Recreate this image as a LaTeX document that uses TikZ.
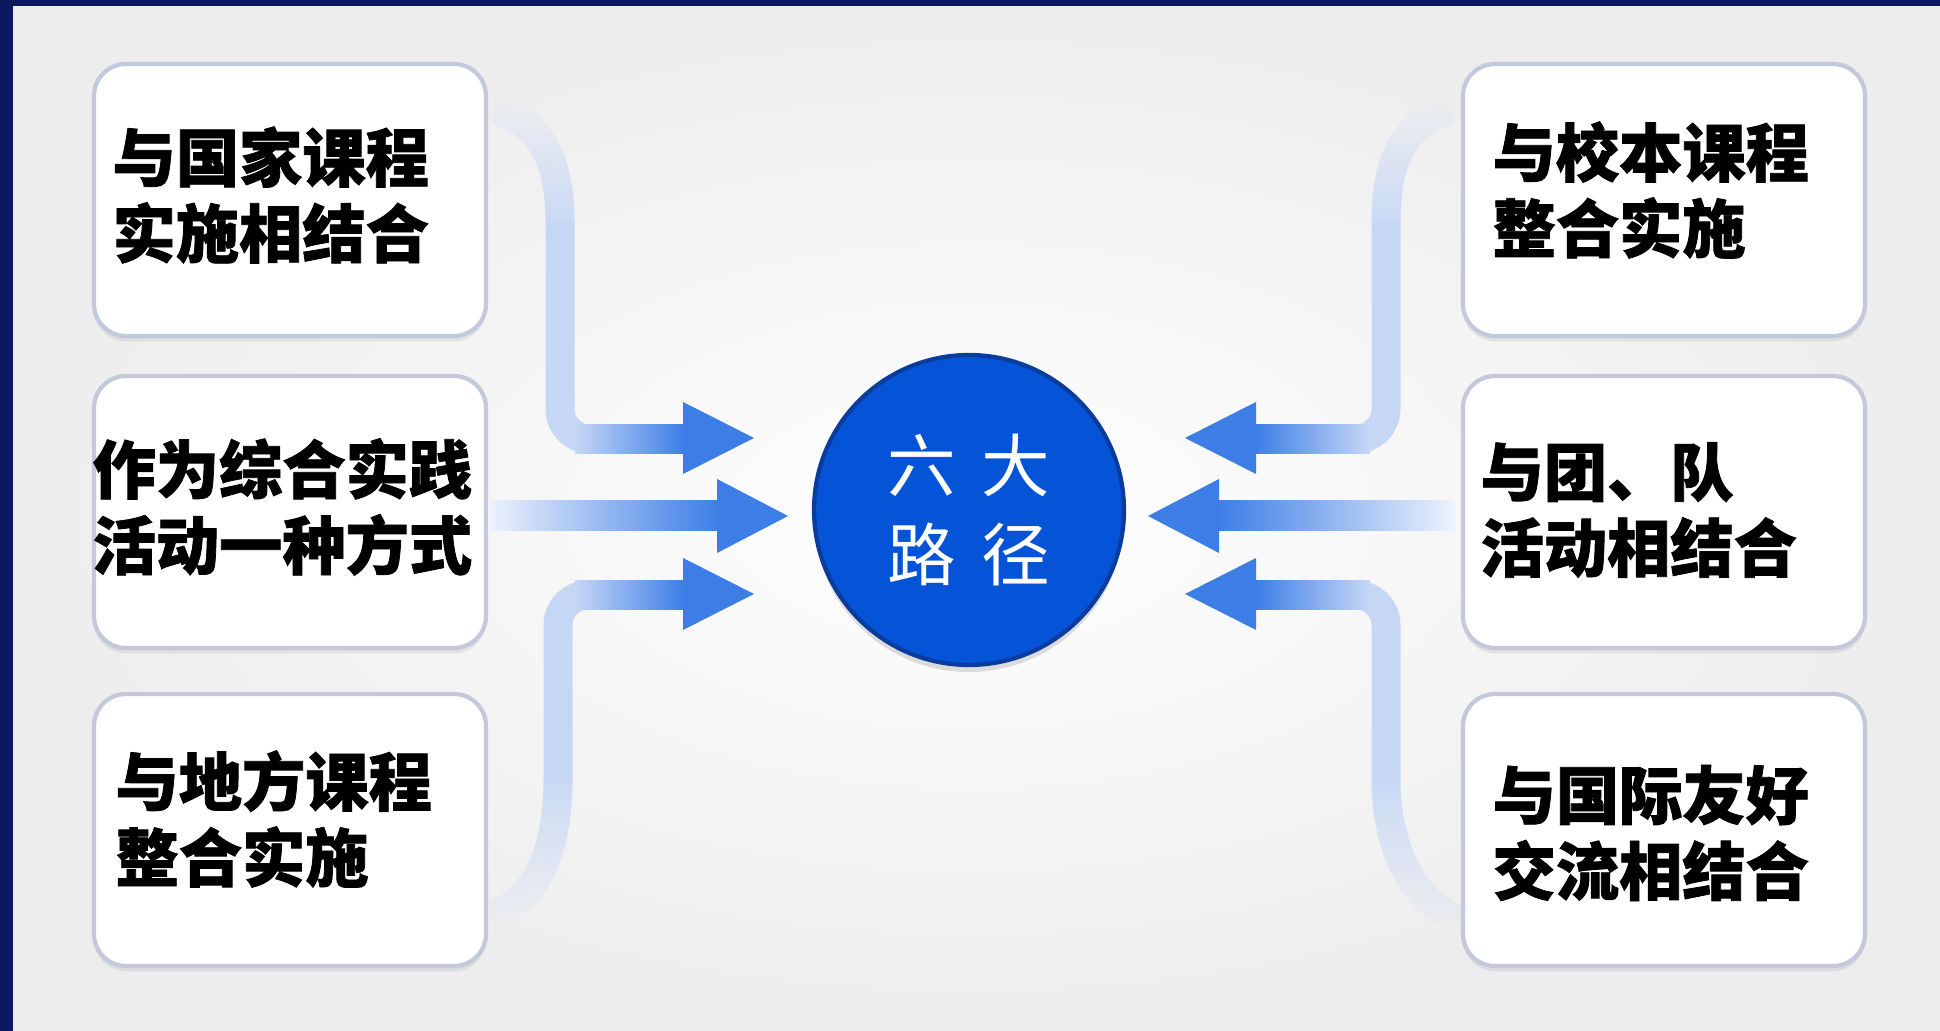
\documentclass[tikz,border=0pt]{standalone}
\usepackage{fontspec}
\newfontfamily\cjk{Noto Sans CJK SC}[BoldFeatures={FakeBold=1.2}]
\usetikzlibrary{positioning,shadows,fadings}

\definecolor{frameblue}{HTML}{0B1A5E}
\definecolor{bggray}{HTML}{EDEDED}
\definecolor{boxline}{HTML}{C3C9DA}
\definecolor{bandpale}{HTML}{C6D7F6}
\definecolor{arrowblue}{HTML}{3D7EE6}
\definecolor{hubblue}{HTML}{0553D6}
\definecolor{hubrim}{HTML}{0A3C9E}

\tikzset{
  pathbox/.style={rounded corners=0.32cm, draw=boxline, line width=1.2pt, fill=white,
    minimum height=2.72cm, drop shadow={opacity=0.15, shadow xshift=0pt, shadow yshift=-1.5pt}},
  boxtext/.style={font=\cjk\bfseries\fontsize{18}{21.6}\selectfont, align=left, inner sep=0pt},
  band/.style={draw=bandpale, line width=0.29cm, rounded corners=0.3cm},
  head/.style={fill=arrowblue},
}

\begin{document}
\begin{tikzpicture}
\useasboundingbox (0,0) rectangle (19.40,10.31);
% background and frame
\shade[inner color=white, outer color=bggray] (0,0) rectangle (19.40,10.31);
\fill[frameblue] (0,0) rectangle (0.13,10.31);
\fill[frameblue] (0,10.25) rectangle (19.40,10.31);

% the six boxes
\node[pathbox, minimum width=3.92cm] (gj) at (2.90,8.31) {};
\node[pathbox, minimum width=3.92cm] (zh) at (2.90,5.19) {};
\node[pathbox, minimum width=3.92cm] (df) at (2.90,2.01) {};
\node[pathbox, minimum width=4.02cm] (xb) at (16.64,8.31) {};
\node[pathbox, minimum width=4.02cm] (td) at (16.64,5.19) {};
\node[pathbox, minimum width=4.02cm] (gx) at (16.64,2.01) {};

\node[boxtext, right=0.20cm of gj.west, yshift=0.05cm] (gjt) {与国家课程\\实施相结合};
\node[boxtext, right=0cm of zh.west, yshift=0.05cm] (zht) {作为综合实践\\活动一种方式};
\node[boxtext, right=0.23cm of df.west, yshift=0.11cm] (dft) {与地方课程\\整合实施};
\node[boxtext, right=0.31cm of xb.west, yshift=0.10cm] (xbt) {与校本课程\\整合实施};
\node[boxtext, right=0.19cm of td.west, yshift=0.02cm] (tdt) {与团、队\\活动相结合};
\node[boxtext, right=0.31cm of gx.west, yshift=-0.03cm] (gxt) {与国际友好\\交流相结合};

% centre
\node[circle, fill=hubblue, draw=hubrim, line width=1.2pt, minimum size=3.1cm,
  drop shadow={opacity=0.25, shadow xshift=0pt, shadow yshift=-2pt},
  text=white, align=center, font=\cjk\fontsize{19.5}{25.6}\selectfont] (hub) at (9.69,5.21)
  {六\hspace{0.25cm}大\\路\hspace{0.25cm}径};

% left arrows
\coordinate (gjs) at (4.95,9.21);
\coordinate (dfs) at (4.91,1.16);
\draw[band, path fading=north] (gjs) .. controls (5.40,9.10) and (5.60,8.70) .. (5.60,8.10);
\draw[band] (5.60,8.12) -- (5.60,5.92) -- (6.0,5.92);
\shade[left color=bandpale, right color=arrowblue] (5.75,5.775) rectangle (6.84,6.065);
\fill[head] (6.83,6.29) -- (7.54,5.93) -- (6.83,5.57) -- cycle;

\shade[left color=bandpale!30!white, right color=arrowblue] (4.88,5.00) rectangle (7.18,5.30);
\fill[head] (7.17,5.52) -- (7.88,5.15) -- (7.17,4.78) -- cycle;

\draw[band, path fading=south] (dfs) .. controls (5.40,1.30) and (5.58,1.90) .. (5.58,2.50);
\draw[band] (5.58,2.48) -- (5.58,4.36) -- (6.0,4.36);
\shade[left color=bandpale, right color=arrowblue] (5.75,4.215) rectangle (6.84,4.505);
\fill[head] (6.83,4.73) -- (7.54,4.37) -- (6.83,4.01) -- cycle;

% right arrows
\coordinate (xbs) at (14.50,9.21);
\coordinate (gxs) at (14.65,1.10);
\draw[band, path fading=north] (xbs) .. controls (14.05,9.10) and (13.86,8.70) .. (13.86,8.10);
\draw[band] (13.86,8.12) -- (13.86,5.92) -- (13.40,5.92);
\shade[left color=arrowblue, right color=bandpale] (12.55,5.775) rectangle (13.70,6.065);
\fill[head] (12.56,6.29) -- (11.85,5.93) -- (12.56,5.57) -- cycle;

\shade[left color=arrowblue, right color=bandpale!30!white] (12.18,5.00) rectangle (14.55,5.30);
\fill[head] (12.19,5.52) -- (11.48,5.15) -- (12.19,4.78) -- cycle;

\draw[band, path fading=south] (gxs) .. controls (14.10,1.25) and (13.86,1.90) .. (13.86,2.50);
\draw[band] (13.86,2.48) -- (13.86,4.36) -- (13.40,4.36);
\shade[left color=arrowblue, right color=bandpale] (12.55,4.215) rectangle (13.70,4.505);
\fill[head] (12.56,4.73) -- (11.85,4.37) -- (12.56,4.01) -- cycle;
\end{tikzpicture}
\end{document}
